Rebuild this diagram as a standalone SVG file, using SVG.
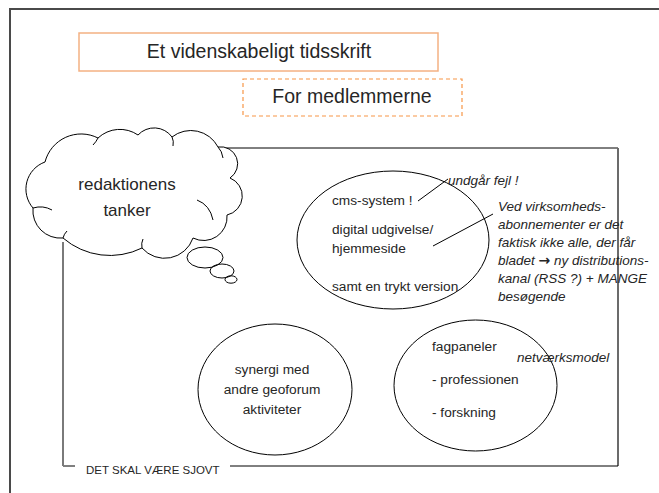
<svg xmlns="http://www.w3.org/2000/svg" width="659" height="493" viewBox="0 0 659 493">
<style>
.t{font-family:"Liberation Sans",Arial,sans-serif;fill:#262626}
.i{font-family:"Liberation Sans",Arial,sans-serif;font-style:italic;fill:#262626;font-size:13.5px}
.b{font-size:13.7px}
.ln{fill:none;stroke:#000;stroke-width:1}
.arr{font-family:"DejaVu Sans",sans-serif;font-style:normal;font-weight:bold;font-size:14px}
</style>
<rect width="659" height="493" fill="#fff"/>
<g id="frame"><rect x="10" y="9" width="720" height="620" fill="none" stroke="#4a4a4a" stroke-width="2"/></g>
<g id="title"><rect x="79" y="33" width="359" height="38" fill="none" stroke="#F4B183" stroke-width="1.5"/>
<text class="t" x="259" y="58" font-size="19.5" text-anchor="middle">Et videnskabeligt tidsskrift</text></g>
<g id="subtitle"><rect x="243" y="79" width="219" height="37" fill="none" stroke="#F79646" stroke-width="1.2" stroke-dasharray="4 3"/>
<text class="t" x="352" y="103" font-size="19.5" text-anchor="middle">For medlemmerne</text></g>
<g id="panel">
<path class="ln" d="M218 148 H618"/>
<path d="M618 148 V466" fill="none" stroke="#6b6b6b" stroke-width="2"/>
<path class="ln" d="M618 466 H230"/>
<path class="ln" d="M75 466 H63"/>
<path d="M63 466 V242" fill="none" stroke="#7a7a7a" stroke-width="2"/>
<text class="t" x="86" y="474" font-size="11.5">DET SKAL VÆRE SJOVT</text>
</g>
<g id="cloud">
<path d="M45 162 A37.3 37.3 0 0 1 98 138 A32 32 0 0 1 138 135 A22 22 0 0 1 172 137 A30.6 30.6 0 0 1 218 147 A17 17 0 0 1 230 178 A19.4 19.4 0 0 1 227 215 A23.5 23.5 0 0 1 193 238 A30 30 0 0 1 142 248 A72 72 0 0 1 63 238 A27.5 27.5 0 0 1 33 208 A28.8 28.8 0 0 1 45 162 Z" fill="#fff" stroke="#000" stroke-width="1"/>
<path class="ln" d="M33 208 Q43 205 52 210 M197 200 Q210 205 213 220 M218 147 Q222 151 223 158 M172 137 Q174 141 173 146 M98 138 Q96 142 93 145 M63 238 Q64 234 67 231 M142 248 Q141 243 143 239"/>
<text class="t" x="127" y="190" font-size="17" text-anchor="middle">redaktionens</text>
<text class="t" x="127" y="216" font-size="17" text-anchor="middle">tanker</text>
<ellipse class="ln" cx="205" cy="257.5" rx="18" ry="10.5" fill="#fff"/>
<ellipse class="ln" cx="222" cy="271" rx="12" ry="7" fill="#fff"/>
<ellipse class="ln" cx="231" cy="279.5" rx="6" ry="3.7" fill="#fff"/>
</g>
<g id="digital">
<ellipse class="ln" cx="393" cy="240" rx="96" ry="69"/>
<text class="t b" x="332" y="205">cms-system !</text>
<text class="t b" x="332" y="234">digital udgivelse/</text>
<text class="t b" x="332" y="253">hjemmeside</text>
<text class="t b" x="332" y="291">samt en trykt version</text>
</g>
<g id="synergi">
<ellipse class="ln" cx="275" cy="389.5" rx="77" ry="65.5"/>
<text class="t b" x="272" y="374" text-anchor="middle">synergi med</text>
<text class="t b" x="272" y="394" text-anchor="middle">andre geoforum</text>
<text class="t b" x="272" y="414" text-anchor="middle">aktiviteter</text>
</g>
<g id="fagpaneler">
<ellipse class="ln" cx="475.5" cy="385.5" rx="81.5" ry="65.5"/>
<text class="t b" x="432" y="351">fagpaneler</text>
<text class="t b" x="432" y="384">- professionen</text>
<text class="t b" x="432" y="417">- forskning</text>
</g>
<g id="note-fejl"><text class="i" x="448" y="185">undgår fejl !</text></g>
<g id="note-abonnement">
<text class="i" x="498" y="211">Ved virksomheds-</text>
<text class="i" x="498" y="229">abonnementer er det</text>
<text class="i" x="498" y="247">faktisk ikke alle, der får</text>
<text class="i" x="498" y="265">bladet <tspan class="arr">→</tspan> ny distributions-</text>
<text class="i" x="498" y="283">kanal (RSS ?) + MANGE</text>
<text class="i" x="498" y="301">besøgende</text>
</g>
<g id="note-netvaerk"><text class="i" x="517" y="362">netværksmodel</text></g>
<g id="connectors">
<line class="ln" x1="418" y1="201" x2="448" y2="179"/>
<line class="ln" x1="433" y1="246" x2="493" y2="214"/>
</g>
</svg>
